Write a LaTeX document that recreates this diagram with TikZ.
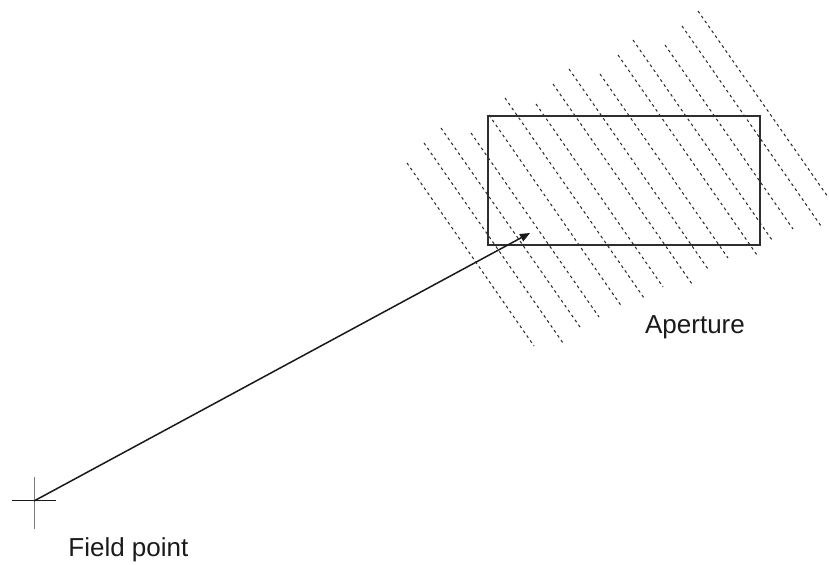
\documentclass[tikz,border=0pt]{standalone}
\usepackage{fontspec}
\setmainfont{Liberation Sans}
\usetikzlibrary{arrows.meta,positioning}
\definecolor{ink}{HTML}{1A1A1A}
\definecolor{frame}{HTML}{2E2E2E}
\definecolor{wave}{HTML}{262626}
\definecolor{muted}{HTML}{7A7A7A}
\tikzset{
  wavefront/.style={draw=wave,line width=0.5pt,dash pattern=on 1.4pt off 1.6pt},
  aperturebox/.style={draw=frame,line width=1.3pt,inner sep=0pt,
    minimum width=136pt,minimum height=64.5pt},
  ray/.style={-{Triangle[length=5pt,width=4pt]},line width=0.75pt,draw=ink},
  tick/.style={line width=0.5pt,draw=#1},
  tick/.default=ink,
  lbl/.style={font=\fontsize{13}{15}\selectfont,text=ink,inner sep=0pt},
}
\begin{document}
\begin{tikzpicture}[x=0.5pt,y=-0.5pt]
    \useasboundingbox (0,0) rectangle (829,565);

    \foreach \xa/\ya/\xb/\yb in {407/163/534/346, 424/143/563/343, 441/128/580/327,
        471/133/599/317, 489/115/622/307, 505/98/644/298, 536/104/663/287,
        553/84/692/284, 569/69/708/269, 600/74/728/258, 618/55/757/255,
        633/40/772/240, 665/45/793/229, 682/26/821/226, 698/11/828/197}
      \draw[wavefront] (\xa,\ya) -- (\xb,\yb);

    \node[aperturebox] (ap) at (624,180.5) {};
    \node[lbl,anchor=base] (aplbl) at (695,334) {Aperture};

    \coordinate (field) at (34,501);
    \coordinate (hit) at (530,233);
    \draw[tick] ([xshift=-11pt]field) -- ([xshift=11pt]field);
    \draw[tick=muted] ([yshift=12pt]field) -- ([yshift=-14pt]field);
    \node[lbl,anchor=base west] (fplbl) at (68,557) {Field point};

    \draw[ray] (field) -- (hit);
  \end{tikzpicture}
\end{document}
